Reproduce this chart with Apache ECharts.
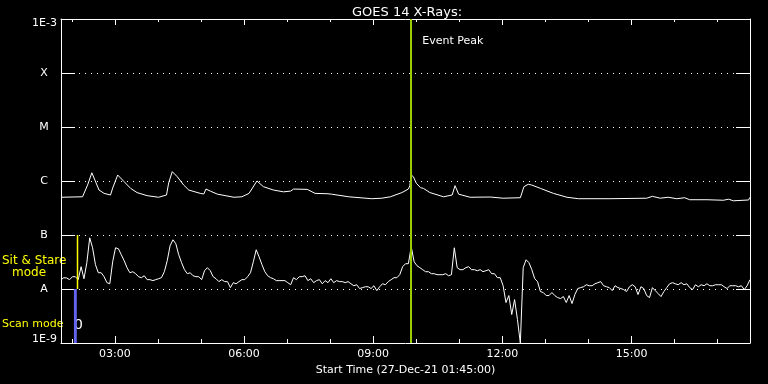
<!DOCTYPE html>
<html><head><meta charset="utf-8">
<script src="https://cdn.jsdelivr.net/npm/echarts@6/dist/echarts.min.js"></script>
<style>html,body{margin:0;padding:0;background:#000;} #c{width:768px;height:384px;}</style>
</head><body><div id="c"></div>
<script>
const chartTitle = 'GOES 14 X-Rays:';
const xAxisTitle = 'Start Time (27-Dec-21 01:45:00)';
const startTime = '01:45';
const endTime = '17:45';
const majorTickTimes = ['03:00','06:00','09:00','12:00','15:00'];
const minorTickTimes = ['02:00','04:00','05:00','07:00','08:00','10:00','11:00','13:00','14:00','16:00','17:00'];
const yTickLabels = ['1E-9','A','B','C','M','X','1E-3'];
const yMin = 1e-9, yMax = 1e-3;

// Long channel (upper curve)
const longTimes = ['01:45','02:15','02:22','02:28','02:38','02:45','02:54','02:57','03:04','03:13',
  '03:22','03:31','03:45','04:01','04:12','04:15','04:20','04:27','04:36','04:43',
  '04:59','05:04','05:07','05:13','05:23','05:46','05:57','06:07','06:18','06:27',
  '06:41','06:55','07:05','07:09','07:28','07:39','07:57','07:59','08:02','08:26',
  '08:58','09:12','09:24','09:40','09:49','09:51','09:53','09:56','10:00','10:06',
  '10:10','10:19','10:38','10:50','10:54','10:59','11:15','11:43','12:01','12:25',
  '12:30','12:36','12:41','12:53','13:11','13:30','13:46','14:30','15:21','15:29',
  '15:40','15:51','16:03','16:14','16:21','16:45','17:08','17:15','17:22','17:43','17:45'];
const longFlux = [5.0e-7,5.1e-7,8.4e-7,1.42e-6,6.8e-7,5.9e-7,5.5e-7,7.4e-7,1.29e-6,9.7e-7,
  7.3e-7,6.1e-7,5.35e-7,5.0e-7,5.5e-7,9.2e-7,1.49e-6,1.2e-6,8.4e-7,6.8e-7,
  5.9e-7,5.75e-7,7.1e-7,6.5e-7,5.7e-7,5.0e-7,5.1e-7,5.9e-7,1.0e-6,7.85e-7,
  6.8e-7,6.3e-7,6.5e-7,7.1e-7,7.0e-7,5.9e-7,5.8e-7,6.3e-7,5.7e-7,5.1e-7,
  4.7e-7,4.8e-7,5.1e-7,6.1e-7,7.1e-7,8.1e-7,1.29e-6,1.2e-6,9.1e-7,7.5e-7,
  7.3e-7,6.1e-7,5.1e-7,5.5e-7,8.2e-7,5.7e-7,5.0e-7,5.05e-7,4.8e-7,4.9e-7,
  7.85e-7,8.7e-7,8.4e-7,7.3e-7,5.9e-7,5.0e-7,4.7e-7,4.7e-7,4.8e-7,5.2e-7,
  4.8e-7,5.0e-7,4.7e-7,4.9e-7,4.5e-7,4.5e-7,4.4e-7,4.6e-7,4.3e-7,4.45e-7,5.0e-7];

// Short channel (lower curve), one reading every 4 minutes from 01:45
const shortStart = '01:45';
const shortStepMinutes = 4;
const shortFlux = [
  1.49e-8,1.62e-8,1.60e-8,1.49e-8,1.69e-8,1.69e-8,1.49e-8,2.59e-8,1.55e-8,3.07e-8,
  8.88e-8,5.8e-8,2.82e-8,2.0e-8,2.0e-8,1.69e-8,1.31e-8,1.25e-8,3.2e-8,5.8e-8,
  5.56e-8,4.31e-8,3.34e-8,2.48e-8,2.0e-8,2.09e-8,1.92e-8,1.69e-8,1.62e-8,1.76e-8,
  1.49e-8,1.49e-8,1.43e-8,1.49e-8,1.55e-8,1.62e-8,2.09e-8,3.34e-8,6.32e-8,8.16e-8,
  6.88e-8,4.31e-8,3.07e-8,2.28e-8,1.92e-8,2.0e-8,1.76e-8,1.69e-8,1.69e-8,1.49e-8,
  2.18e-8,2.48e-8,2.18e-8,1.69e-8,1.55e-8,1.37e-8,1.49e-8,1.37e-8,1.37e-8,1.06e-8,
  1.31e-8,1.25e-8,1.37e-8,1.49e-8,1.49e-8,1.69e-8,2.0e-8,3.2e-8,5.33e-8,3.95e-8,
  2.82e-8,2.09e-8,1.76e-8,1.62e-8,1.55e-8,1.43e-8,1.43e-8,1.43e-8,1.43e-8,1.31e-8,
  1.2e-8,1.62e-8,1.49e-8,1.69e-8,1.69e-8,1.76e-8,1.43e-8,1.55e-8,1.31e-8,1.43e-8,
  1.49e-8,1.25e-8,1.43e-8,1.31e-8,1.55e-8,1.31e-8,1.43e-8,1.37e-8,1.37e-8,1.31e-8,
  1.37e-8,1.25e-8,1.15e-8,1.2e-8,1.02e-8,1.06e-8,1.1e-8,1.1e-8,1.02e-8,1.15e-8,
  9.34e-9,1.1e-8,1.25e-8,1.2e-8,1.37e-8,1.49e-8,1.62e-8,1.62e-8,1.84e-8,2.59e-8,
  2.94e-8,2.94e-8,6.06e-8,3.2e-8,2.7e-8,2.48e-8,2.28e-8,2.09e-8,2.09e-8,1.92e-8,
  1.92e-8,1.84e-8,1.84e-8,1.84e-8,1.92e-8,1.76e-8,1.84e-8,5.8e-8,2.48e-8,2.28e-8,
  2.28e-8,2.48e-8,2.59e-8,2.28e-8,2.28e-8,2.18e-8,2.28e-8,2.09e-8,2.18e-8,2.28e-8,
  1.92e-8,1.92e-8,1.62e-8,1.62e-8,1.15e-8,5.61e-9,7.56e-9,3.37e-9,6.37e-9,2.72e-9,
  1.0e-9,2.48e-8,3.48e-8,3.07e-8,2.28e-8,1.55e-8,1.37e-8,8.96e-9,8.58e-9,7.56e-9,
  7.56e-9,8.58e-9,7.56e-9,6.94e-9,6.65e-9,7.24e-9,5.61e-9,7.56e-9,5.38e-9,7.89e-9,
  1.02e-8,1.06e-8,1.1e-8,1.2e-8,1.15e-8,1.15e-8,1.25e-8,1.31e-8,1.37e-8,1.15e-8,
  1.1e-8,1.06e-8,9.34e-9,1.15e-8,1.06e-8,1.02e-8,9.75e-9,8.96e-9,1.1e-8,1.2e-8,
  1.1e-8,7.89e-9,1.1e-8,1.02e-8,7.56e-9,6.94e-9,1.06e-8,9.34e-9,8.23e-9,7.24e-9,
  8.96e-9,1.06e-8,1.25e-8,1.31e-8,1.25e-8,1.2e-8,1.31e-8,1.2e-8,1.25e-8,1.06e-8,
  9.75e-9,1.2e-8,1.1e-8,1.2e-8,1.15e-8,1.25e-8,1.15e-8,1.15e-8,1.2e-8,1.2e-8,
  1.2e-8,1.1e-8,1.02e-8,1.15e-8,1.15e-8,1.15e-8,1.1e-8,1.15e-8,9.75e-9,1.15e-8,
  1.49e-8];

const eventPeakTime = '09:53';
const eventLabel = 'Event Peak';
const sitStareTime = '02:08';
const sitStareRange = [1e-8, 1e-7];
const sitStareLabel = ['Sit & Stare', 'mode'];
const scanModeStart = '02:03', scanModeEnd = '02:07';
const scanRange = [1e-9, 1e-8];
const scanLabel = 'Scan mode';
const scanCount = '0';

const FONT = 'DejaVu Sans';
function hrs(s){ const p = s.split(':').map(Number); return p[0] + p[1]/60; }
function fmtHour(v){ const h = Math.round(v); return (h < 10 ? '0' : '') + h + ':00'; }

const xMin = hrs(startTime), xMax = hrs(endTime);
const longData = longTimes.map((t,i) => [hrs(t), longFlux[i]]);
const s0 = hrs(shortStart);
const shortData = shortFlux.map((v,i) => [s0 + i*shortStepMinutes/60, v]);
const sitStareData = sitStareRange.map(v => [hrs(sitStareTime), v]);

const chart = echarts.init(document.getElementById('c'), null, {renderer:'canvas'});
const white = '#ffffff';
const yellow = '#ffff00';
function xAx(pos, ticks, len, showLine, labels){
  return {
    type:'value', position:pos, min:xMin, max:xMax, gridIndex:0,
    axisLine:{show:showLine, onZero:false, lineStyle:{color:white, width:1}},
    axisTick:{show:true, inside:true, length:len, customValues:ticks.map(hrs), lineStyle:{color:white, width:1}},
    axisLabel:labels ? {show:true, customValues:ticks.map(hrs), formatter:fmtHour, color:white, fontFamily:FONT, fontSize:11, margin:6} : {show:false},
    splitLine:{show:false},
    name: labels ? xAxisTitle : '', nameLocation:'middle', nameGap:19,
    nameTextStyle:{color:white, fontFamily:FONT, fontSize:11}
  };
}
const option = {
  backgroundColor:'#000000',
  animation:false,
  title:{text:chartTitle, left:347, top:1, textStyle:{color:white, fontFamily:FONT, fontSize:13, fontWeight:'normal'}},
  grid:{left:61, top:19, width:689, height:324, containLabel:false},
  xAxis:[
    xAx('bottom', majorTickTimes, 7, true, true),
    xAx('bottom', minorTickTimes, 4, false, false),
    xAx('top', majorTickTimes, 6, true, false),
    xAx('top', minorTickTimes, 3, false, false)
  ],
  yAxis:[
    {type:'log', logBase:10, min:yMin, max:yMax, splitNumber:6, position:'left',
     axisLine:{show:true, onZero:false, lineStyle:{color:white, width:1}},
     axisTick:{show:true, inside:true, length:14, lineStyle:{color:white, width:1}},
     axisLabel:{show:true, margin:4, color:white, fontFamily:FONT, fontSize:11,
       formatter:function(v){
         const idx = Math.round(Math.log10(v)) + 9;
         const t = yTickLabels[idx];
         if (idx === 0) return '{lo|' + t + '}';
         if (idx === 6) return '{hi|' + t + '}';
         return '{l|' + t + '}';
       },
       rich:{
         lo:{color:white, fontFamily:FONT, fontSize:11, padding:[0,0,7,0]},
         hi:{color:white, fontFamily:FONT, fontSize:11, padding:[8,0,0,0]},
         l:{color:white, fontFamily:FONT, fontSize:11, width:26, align:'center'}
       }},
     splitLine:{show:true, lineStyle:{color:white, width:1, type:[1,5]}}},
    {type:'log', logBase:10, min:yMin, max:yMax, splitNumber:6, position:'right',
     axisLine:{show:true, onZero:false, lineStyle:{color:white, width:1}},
     axisTick:{show:true, inside:true, length:14, lineStyle:{color:white, width:1}},
     axisLabel:{show:false}, splitLine:{show:false}}
  ],
  series:[
    {name:'long', type:'line', data:longData, xAxisIndex:0, yAxisIndex:0,
     showSymbol:false, symbol:'none', lineStyle:{color:white, width:1}, silent:true,
     markLine:{silent:true, symbol:'none', label:{show:false},
       data:[
         {xAxis:hrs(eventPeakTime), lineStyle:{color:'#9acd00', width:2, type:'solid'}}
       ]},
     markArea:{silent:true, itemStyle:{color:'#6464f0', opacity:1},
       data:[[{coord:[hrs(scanModeStart), scanRange[0]]},{coord:[hrs(scanModeEnd), scanRange[1]]}]]}
    },
    {name:'short', type:'line', data:shortData, xAxisIndex:0, yAxisIndex:0,
     showSymbol:false, symbol:'none', lineStyle:{color:white, width:1}, silent:true},
    {name:'sitStare', type:'line', data:sitStareData, xAxisIndex:0, yAxisIndex:0, z:3,
     showSymbol:false, symbol:'none', lineStyle:{color:yellow, width:1.5}, silent:true}
  ]
};
chart.setOption(option);

const ev = chart.convertToPixel({xAxisIndex:0, yAxisIndex:0}, [hrs(eventPeakTime), 3.7e-4]);
const sc = chart.convertToPixel({xAxisIndex:0, yAxisIndex:0}, [hrs(scanModeStart), 1.8e-9]);
const yA = chart.convertToPixel({yAxisIndex:0}, 1e-8);
const yB = chart.convertToPixel({yAxisIndex:0}, 1e-7);
chart.setOption({graphic:[
  {type:'text', left:ev[0]+11, top:ev[1]-7, style:{text:eventLabel, fill:white, font:'11px "DejaVu Sans"'}},
  {type:'text', left:2, top:yB+20, style:{text:sitStareLabel[0], fill:yellow, font:'12px "DejaVu Sans"'}},
  {type:'text', left:12, top:yB+32, style:{text:sitStareLabel[1], fill:yellow, font:'12px "DejaVu Sans"'}},
  {type:'text', left:2, top:yA+30, style:{text:scanLabel, fill:yellow, font:'11px "DejaVu Sans"'}},
  {type:'text', left:sc[0], top:sc[1]-11, style:{text:scanCount, fill:white, font:'14px "DejaVu Sans"'}}
]});
</script></body></html>
